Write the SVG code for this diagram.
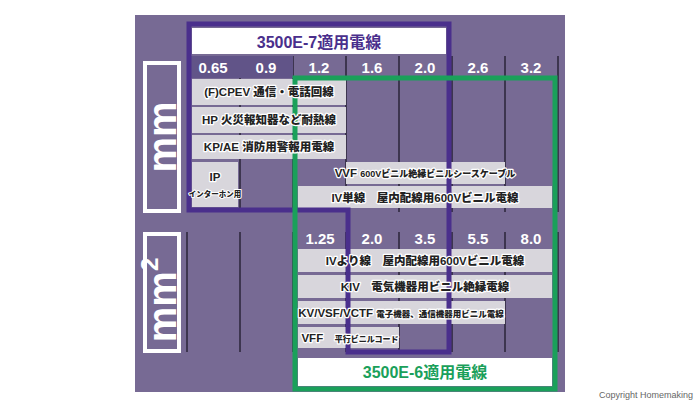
<svg xmlns="http://www.w3.org/2000/svg" width="700" height="405" viewBox="0 0 700 405">
<style>
.num{font-family:"Liberation Sans",Arial,sans-serif;font-weight:bold;font-size:15px;fill:#fff;text-anchor:middle}
.lbl{font-family:"Liberation Sans","Noto Sans CJK JP",sans-serif;font-weight:900;font-size:11.5px;fill:#222;text-anchor:middle;stroke:#fff;stroke-width:2.5;paint-order:stroke;stroke-linejoin:round}
.box{fill:#d8d6dc}
.div{stroke:#2a2438;stroke-width:1.5}
.unit{font-family:"Liberation Sans",Arial,sans-serif;font-weight:bold;font-size:40px;fill:#fff;text-anchor:middle}
</style>
<rect width="700" height="405" fill="#fff"/>
<rect x="135" y="15" width="430" height="377" fill="#776a94"/>
<g id="grid">
<g class="div">
<line x1="240" y1="56" x2="240" y2="212"/><line x1="293" y1="56" x2="293" y2="212"/><line x1="346" y1="56" x2="346" y2="212"/><line x1="399" y1="56" x2="399" y2="212"/><line x1="452" y1="56" x2="452" y2="212"/><line x1="505" y1="56" x2="505" y2="212"/><line x1="558" y1="56" x2="558" y2="212"/>
<line x1="187" y1="232" x2="187" y2="352"/><line x1="240" y1="232" x2="240" y2="352"/><line x1="293" y1="232" x2="293" y2="352"/><line x1="346" y1="232" x2="346" y2="352"/><line x1="399" y1="232" x2="399" y2="352"/><line x1="452" y1="232" x2="452" y2="352"/><line x1="505" y1="232" x2="505" y2="352"/><line x1="558" y1="232" x2="558" y2="352"/>
</g>
<rect x="190" y="56" width="50" height="22" fill="#615488"/>
<rect x="240" y="56" width="53" height="22" fill="#615488"/>
</g>
<g id="unit-mm"><rect x="145" y="63" width="34" height="148" fill="none" stroke="#fff" stroke-width="4"/><text class="unit" transform="translate(176,137) rotate(-90)">mm</text></g>
<g id="unit-mm2"><rect x="145" y="234" width="34" height="117" fill="none" stroke="#fff" stroke-width="4"/><text class="unit" transform="translate(176,300) rotate(-90)">mm<tspan font-size="24" dy="-18">2</tspan></text></g>
<g id="nums">
<text class="num" x="213" y="73">0.65</text><text class="num" x="266" y="73">0.9</text><text class="num" x="319" y="73">1.2</text><text class="num" x="372" y="73">1.6</text><text class="num" x="425" y="73">2.0</text><text class="num" x="478" y="73">2.6</text><text class="num" x="531" y="73">3.2</text>
<text class="num" x="320" y="244">1.25</text><text class="num" x="372" y="244">2.0</text><text class="num" x="425" y="244">3.5</text><text class="num" x="478" y="244">5.5</text><text class="num" x="531" y="244">8.0</text>
</g>
<g id="boxes">
<rect class="box" x="192" y="79" width="154" height="26"/>
<rect class="box" x="192" y="107" width="154" height="26"/>
<rect class="box" x="192" y="135" width="154" height="24"/>
<rect class="box" x="192" y="162" width="46" height="45"/>
<rect class="box" x="346" y="162" width="159" height="22"/>
<rect class="box" x="298" y="186" width="254" height="22"/>
<rect class="box" x="298" y="249" width="254" height="23"/>
<rect class="box" x="298" y="275" width="254" height="23"/>
<rect class="box" x="298" y="301" width="207" height="23"/>
<rect class="box" x="298" y="327" width="101" height="21"/>
</g>
<g id="frame-e7">
<rect x="192" y="28" width="254" height="26" fill="#fff"/>
<text x="319" y="48" text-anchor="middle" font-family="Liberation Sans,Noto Sans CJK JP,sans-serif" font-weight="bold" font-size="16" fill="#4a2f8c">3500E-7適用電線</text>
<path d="M189,24 H449 V352 H348 V210 H189 Z" fill="none" stroke="#4a2f8c" stroke-width="5"/>
</g>
<g id="frame-e6">
<rect x="298" y="358" width="254" height="28" fill="#fff"/>
<text x="425" y="378" text-anchor="middle" font-family="Liberation Sans,Noto Sans CJK JP,sans-serif" font-weight="bold" font-size="16" fill="#1aa05a">3500E-6適用電線</text>
<rect x="295" y="78" width="260" height="311" fill="none" stroke="#1aa05a" stroke-width="5"/>
</g>
<g id="labels">
<text class="lbl" x="269" y="96">(F)CPEV 通信・電話回線</text>
<text class="lbl" x="269" y="124">HP 火災報知器など耐熱線</text>
<text class="lbl" x="269" y="151">KP/AE 消防用警報用電線</text>
<text class="lbl" x="215" y="181">IP</text><text class="lbl" x="215" y="197" style="font-size:7.5px;stroke-width:2">インターホン用</text>
<text class="lbl" x="425" y="177">VVF <tspan style="font-size:9px">600Vビニル絶縁ビニルシースケーブル</tspan></text>
<text class="lbl" x="425" y="202">IV単線　屋内配線用600Vビニル電線</text>
<text class="lbl" x="425" y="265">IVより線　屋内配線用600Vビニル電線</text>
<text class="lbl" x="425" y="291">KIV　電気機器用ビニル絶縁電線</text>
<text class="lbl" x="401" y="317">KV/VSF/VCTF <tspan style="font-size:8.5px">電子機器、通信機器用ビニル電線</tspan></text>
<text class="lbl" x="350" y="342">VFF　<tspan style="font-size:8px">平行ビニルコード</tspan></text>
</g>
<text x="693" y="398" text-anchor="end" font-family="Liberation Sans,sans-serif" font-size="9" fill="#666">Copyright  Homemaking</text>
</svg>
